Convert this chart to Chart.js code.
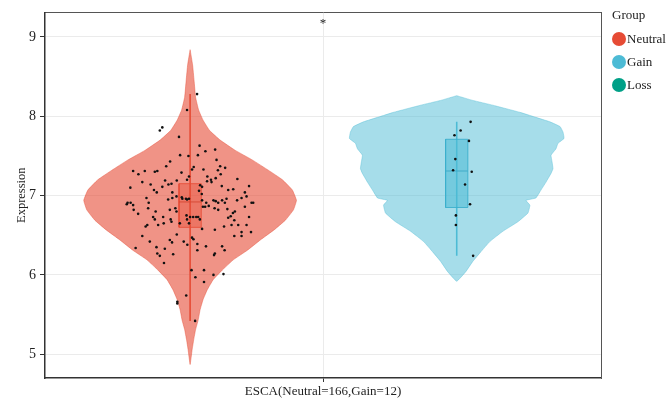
<!DOCTYPE html>
<html>
<head>
<meta charset="utf-8">
<script src="https://cdn.jsdelivr.net/npm/chart.js@4.4.1/dist/chart.umd.min.js"></script>
<style>
  html, body { margin: 0; padding: 0; background: #ffffff; }
  #wrap { width: 670px; height: 399px; }
</style>
</head>
<body>
<div id="wrap"><canvas id="chart" width="670" height="399"></canvas></div>
<script>
// ---- data ----
const groups = ['Neutral', 'Gain', 'Loss'];
const groupColors = ['#E64B35', '#4DBBD5', '#00A087'];
const categoryLabel = 'ESCA(Neutral=166,Gain=12)';
const yTicks = [5, 6, 7, 8, 9];
const significance = '*';

// kernel density outline: expression level -> relative half width
const neutralViolinY = [8.84, 8.65, 8.45, 8.24, 8.08, 7.95, 7.82, 7.70, 7.57, 7.45, 7.32, 7.20, 7.07, 6.94, 6.82, 6.69, 6.57, 6.44, 6.31, 6.19, 6.06, 5.94, 5.81, 5.69, 5.56, 5.43, 5.31, 5.18, 5.06, 4.87];
const neutralViolinD = [0.00, 0.023, 0.037, 0.051, 0.079, 0.121, 0.182, 0.280, 0.421, 0.579, 0.729, 0.860, 0.953, 0.991, 0.963, 0.888, 0.785, 0.654, 0.533, 0.402, 0.299, 0.215, 0.159, 0.121, 0.093, 0.075, 0.051, 0.033, 0.019, 0.00];
const gainViolinY = [8.26, 8.20, 8.14, 8.05, 7.99, 7.93, 7.87, 7.80, 7.72, 7.66, 7.59, 7.51, 7.43, 7.34, 7.28, 7.17, 7.05, 6.97, 6.94, 6.88, 6.78, 6.67, 6.55, 6.42, 6.29, 6.17, 6.04, 5.92];
const gainViolinD = [0.00, 0.150, 0.336, 0.589, 0.729, 0.869, 0.963, 0.991, 1.000, 0.944, 0.925, 0.879, 0.888, 0.897, 0.879, 0.832, 0.776, 0.738, 0.645, 0.682, 0.664, 0.570, 0.430, 0.308, 0.224, 0.150, 0.084, 0.00];

// box summaries: min, q1, median, q3, max
const neutralBox = [5.42, 6.60, 6.92, 7.15, 8.28];
const gainBox = [6.24, 6.85, 7.31, 7.71, 7.93];

// individual samples (expression) and their horizontal jitter
const neutralValues = [
  8.28, 8.08, 7.86, 7.82, 7.74, 7.63,
  7.56, 7.58, 7.51, 7.50, 7.51, 7.45, 7.43, 7.37, 7.33, 7.36, 7.33, 7.37, 7.35, 7.32,
  7.31, 7.27, 7.31, 7.30, 7.31, 7.29, 7.27, 7.20, 7.24, 7.24, 7.22, 7.19, 7.15, 7.19,
  7.20, 7.21, 7.10, 7.17, 7.14, 7.11, 7.14, 7.13, 7.11, 7.18, 7.17, 7.12, 7.07, 7.08,
  7.12, 7.07, 7.04, 7.04, 7.06, 7.02, 7.04,
  6.91, 6.88, 6.97, 6.91, 6.95, 6.97, 6.99, 6.96, 6.95, 6.96, 6.94, 6.91, 6.87, 6.94,
  6.93, 6.91, 6.94, 6.91, 6.96, 6.94, 6.97, 6.99, 6.91, 6.91,
  6.82, 6.77, 6.84, 6.80, 6.82, 6.84, 6.80, 6.86, 6.86, 6.84, 6.82, 6.83, 6.78, 6.80, 6.86,
  6.73, 6.70, 6.73, 6.70, 6.67, 6.75, 6.70, 6.73, 6.73, 6.70, 6.72, 6.74, 6.69, 6.73,
  6.61, 6.63, 6.63, 6.65, 6.65, 6.65, 6.58, 6.57, 6.61, 6.63, 6.63, 6.63,
  6.49, 6.51, 6.44, 6.47, 6.45, 6.49, 6.54, 6.49, 6.54,
  6.34, 6.42, 6.35, 6.33, 6.41, 6.42, 6.38, 6.39, 6.36, 6.36, 6.31, 6.27, 6.24, 6.26,
  6.31, 6.27, 6.25, 6.15, 6.06, 6.06, 5.97, 6.00, 6.01, 5.91, 5.74, 5.66, 5.64, 5.42,
  6.89, 6.91, 6.98, 6.96, 6.73, 6.73
];
const neutralJitter = [
  0.025, -0.011, -0.100, -0.109, -0.040, 0.034,
  0.055, 0.090, -0.036, -0.006, 0.028, 0.095, -0.072, -0.086, 0.007, 0.013, 0.048, 0.108, 0.126, 0.100,
  -0.205, -0.186, -0.163, -0.127, -0.118, -0.031, 0.110, -0.011, -0.004, 0.062, 0.092, -0.090, -0.067, -0.048,
  0.075, 0.170, -0.215, -0.172, -0.142, -0.100, -0.078, 0.036, 0.043, 0.061, 0.077, 0.114, 0.137, 0.155,
  0.212, -0.130, -0.120, -0.064, 0.032, 0.042, 0.197,
  -0.214, -0.205, -0.157, -0.149, -0.079, -0.064, -0.049, -0.028, -0.011, -0.004, 0.043, 0.058, 0.067, 0.084,
  0.092, 0.101, 0.115, 0.125, 0.131, 0.169, 0.185, 0.203, 0.221, 0.227,
  -0.203, -0.187, -0.151, -0.124, -0.073, -0.053, -0.049, 0.046, 0.054, 0.088, 0.101, 0.134, 0.154, 0.161, 0.197,
  -0.133, -0.127, -0.097, -0.070, -0.067, -0.013, -0.011, 0.011, 0.029, 0.035, 0.137, 0.146, 0.159, 0.212,
  -0.160, -0.154, -0.115, -0.095, -0.037, -0.004, 0.043, 0.089, 0.122, 0.149, 0.173, 0.203,
  -0.172, -0.048, -0.073, 0.007, 0.012, 0.159, 0.185, 0.185, 0.219,
  -0.196, -0.145, -0.121, -0.091, -0.065, -0.023, -0.010, 0.026, 0.057, 0.115, 0.124, -0.118, -0.109, -0.061,
  0.026, 0.089, 0.086, -0.094, 0.005, 0.050, 0.019, 0.084, 0.120, 0.050, -0.014, -0.046, -0.046, 0.018,
  -0.228, -0.225, -0.030, -0.015, 0.000, 0.022
];
const gainValues = [7.93, 7.82, 7.76, 7.69, 7.46, 7.32, 7.30, 7.14, 6.89, 6.75, 6.63, 6.24];
const gainJitter = [0.050, 0.014, -0.008, 0.044, -0.005, -0.013, 0.054, 0.030, 0.048, -0.003, -0.003, 0.059];

// ---- geometry of the dodged groups (x axis runs from -1 to 1) ----
const GROUP_CENTER = { Neutral: -0.478, Gain: 0.481 };
const VIOLIN_HALF = 0.386;
const BOX_HALF = 0.040;

const SERIF = '"Liberation Serif", "Times New Roman", serif';

function violinOutline(center, levels, dens) {
  const right = levels.map((v, i) => ({ x: center + dens[i] * VIOLIN_HALF, y: v }));
  const left = levels.map((v, i) => ({ x: center - dens[i] * VIOLIN_HALF, y: v })).reverse();
  return right.concat(left.slice(1));
}
function boxOutline(center, s) {
  return [
    { x: center - BOX_HALF, y: s[1] }, { x: center + BOX_HALF, y: s[1] },
    { x: center + BOX_HALF, y: s[3] }, { x: center - BOX_HALF, y: s[3] },
    { x: center - BOX_HALF, y: s[1] }
  ];
}
function samples(center, values, jitter) {
  return values.map((v, i) => ({ x: center + jitter[i], y: v }));
}

function lineSet(data, extra) {
  return Object.assign({
    type: 'line', data: data, pointRadius: 0, pointHoverRadius: 0,
    tension: 0, fill: false, borderWidth: 1
  }, extra);
}

const datasets = [
  // samples on top
  lineSet(samples(GROUP_CENTER.Neutral, neutralValues, neutralJitter), {
    showLine: false, pointRadius: 1.3, pointBackgroundColor: '#111111', pointBorderWidth: 0, order: 0 }),
  lineSet(samples(GROUP_CENTER.Gain, gainValues, gainJitter), {
    showLine: false, pointRadius: 1.3, pointBackgroundColor: '#111111', pointBorderWidth: 0, order: 0 }),
  // medians
  lineSet([{ x: GROUP_CENTER.Neutral - BOX_HALF, y: neutralBox[2] }, { x: GROUP_CENTER.Neutral + BOX_HALF, y: neutralBox[2] }],
    { borderColor: 'rgba(214,70,50,0.9)', borderWidth: 1, order: 1 }),
  lineSet([{ x: GROUP_CENTER.Gain - BOX_HALF, y: gainBox[2] }, { x: GROUP_CENTER.Gain + BOX_HALF, y: gainBox[2] }],
    { borderColor: 'rgba(60,170,200,0.9)', borderWidth: 1, order: 1 }),
  // boxes
  lineSet(boxOutline(GROUP_CENTER.Neutral, neutralBox),
    { fill: 'shape', backgroundColor: 'rgba(230,75,53,0.4)', borderColor: 'rgba(230,75,53,0.85)', borderWidth: 1, order: 2 }),
  lineSet(boxOutline(GROUP_CENTER.Gain, gainBox),
    { fill: 'shape', backgroundColor: 'rgba(77,187,213,0.55)', borderColor: 'rgba(60,175,205,0.9)', borderWidth: 1, order: 2 }),
  // whiskers
  lineSet([{ x: GROUP_CENTER.Neutral, y: neutralBox[0] }, { x: GROUP_CENTER.Neutral, y: neutralBox[4] }],
    { borderColor: '#E64B35', borderWidth: 1.6, order: 3 }),
  lineSet([{ x: GROUP_CENTER.Gain, y: gainBox[0] }, { x: GROUP_CENTER.Gain, y: gainBox[4] }],
    { borderColor: '#4DBBD5', borderWidth: 1.6, order: 3 }),
  // violins
  lineSet(violinOutline(GROUP_CENTER.Neutral, neutralViolinY, neutralViolinD),
    { fill: 'shape', tension: 0.1, backgroundColor: 'rgba(230,75,53,0.6)', borderColor: 'rgba(230,75,53,0.55)', borderWidth: 0.8, order: 4 }),
  lineSet(violinOutline(GROUP_CENTER.Gain, gainViolinY, gainViolinD),
    { fill: 'shape', tension: 0.1, backgroundColor: 'rgba(77,187,213,0.5)', borderColor: 'rgba(77,187,213,0.5)', borderWidth: 0.8, order: 4 })
];

// group legend on the right of the panel
const groupLegend = {
  id: 'groupLegend',
  afterDraw(chart) {
    const { ctx, chartArea } = chart;
    const x0 = chartArea.right + 11;
    ctx.save();
    ctx.font = '13px ' + SERIF;
    ctx.fillStyle = '#222';
    ctx.textBaseline = 'middle';
    ctx.textAlign = 'left';
    ctx.fillText('Group', x0, 16);
    groups.forEach((g, i) => {
      const cy = 39 + i * 23;
      ctx.beginPath();
      ctx.arc(x0 + 7, cy, 7, 0, Math.PI * 2);
      ctx.fillStyle = groupColors[i];
      ctx.fill();
      ctx.fillStyle = '#222';
      ctx.fillText(g, x0 + 15, cy + 0.5);
    });
    ctx.restore();
  }
};

// significance mark above the category
const sigMark = {
  id: 'sigMark',
  afterDatasetsDraw(chart) {
    const { ctx, scales } = chart;
    ctx.save();
    ctx.font = '13px ' + SERIF;
    ctx.fillStyle = '#222';
    ctx.textAlign = 'center';
    ctx.textBaseline = 'middle';
    ctx.fillText(significance, scales.x.getPixelForValue(0), scales.y.getPixelForValue(9.17));
    ctx.restore();
  }
};

new Chart(document.getElementById('chart'), {
  type: 'line',
  data: { datasets: datasets },
  options: {
    responsive: false,
    animation: false,
    devicePixelRatio: 1,
    layout: { padding: { top: 0, right: 69, bottom: 0, left: 0 } },
    plugins: { legend: { display: false }, tooltip: { enabled: false } },
    events: [],
    scales: {
      x: {
        type: 'linear', position: 'bottom', min: -1, max: 1,
        afterBuildTicks: (s) => { s.ticks = [{ value: 0 }]; },
        afterFit: (s) => { s.height = 21; },
        ticks: { callback: () => categoryLabel, color: '#222', font: { family: SERIF, size: 13 }, padding: 2, maxRotation: 0 },
        grid: { color: '#EBEBEB', lineWidth: 1, tickColor: '#333', tickLength: 4 },
        border: { color: '#333', width: 1.5 }
      },
      xTop: {
        type: 'linear', position: 'top', min: -1, max: 1,
        afterFit: (s) => { s.height = 11.5; },
        ticks: { display: false },
        grid: { display: false, drawTicks: false },
        border: { display: true, color: '#555', width: 1 }
      },
      y: {
        type: 'linear', position: 'left', min: 4.70, max: 9.31,
        afterBuildTicks: (s) => { s.ticks = yTicks.map(v => ({ value: v })); },
        afterFit: (s) => { s.width = 45; },
        ticks: { color: '#222', font: { family: SERIF, size: 14 }, padding: 4 },
        grid: { color: '#EBEBEB', lineWidth: 1, tickColor: '#333', tickLength: 5 },
        border: { color: '#333', width: 1.5 },
        title: { display: true, text: 'Expression', color: '#222', font: { family: SERIF, size: 12.5 }, padding: { top: 14, bottom: 0 } }
      },
      yRight: {
        type: 'linear', position: 'right', min: 0, max: 1,
        afterFit: (s) => { s.width = 0; },
        ticks: { display: false },
        grid: { display: false, drawTicks: false },
        border: { display: true, color: '#555', width: 1 }
      }
    }
  },
  plugins: [groupLegend, sigMark]
});
</script>
</body>
</html>
